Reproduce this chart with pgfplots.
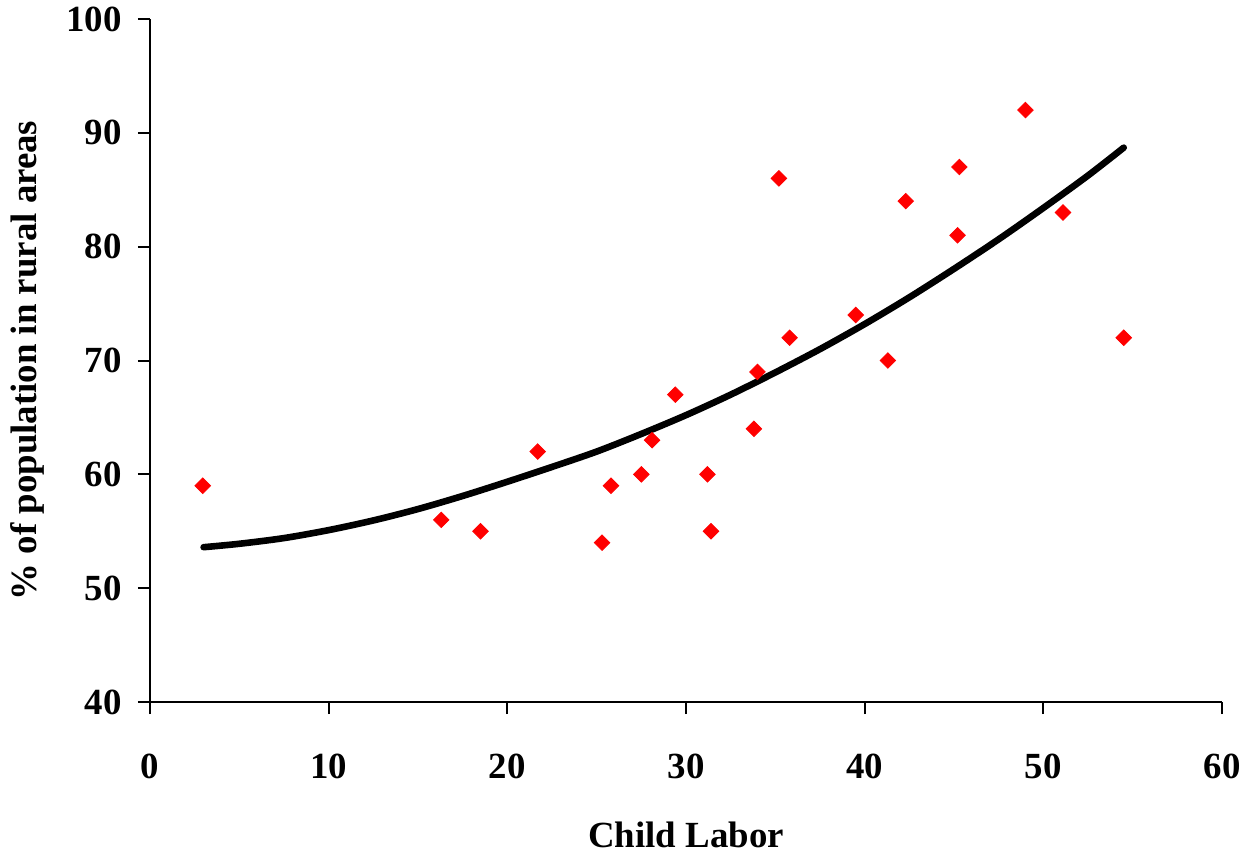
\documentclass[border=0pt]{standalone}
\usepackage{pgfplots}
\pgfplotsset{compat=1.18}
\usepackage{fontspec}
\setmainfont{Liberation Serif}

\begin{document}
\begin{tikzpicture}
\begin{axis}[
    at={(0,0)}, anchor=south west,
    scale only axis,
    width=536bp, height=341.5bp,
    xmin=0, xmax=60, ymin=40, ymax=100,
    xtick={0,10,...,60}, ytick={40,50,...,100},
    axis x line=bottom, axis y line=left,
    axis line style={-, line width=1bp},
    tick align=outside,
    major tick length=6bp,
    tick style={line width=1bp, black},
    font=\fontsize{18.5}{22}\selectfont\bfseries,
    /pgf/number format/assume math mode=true,
    xticklabel style={anchor=north, inner sep=0pt, yshift=-20bp},
    yticklabel style={anchor=east, inner sep=0pt, xshift=-8bp},
    xlabel={Child Labor},
    ylabel={\% of population in rural areas},
    xlabel style={at={([yshift=-72.5bp]axis description cs:0.5,0)}, anchor=base, inner sep=0pt},
    ylabel style={at={([xshift=-56.5bp]axis description cs:0,0.5)}, anchor=base, rotate=0, inner sep=0pt},
]
% observed points
\addplot[only marks, mark=square*, mark size=2.75bp,
    mark options={rotate=45, fill=red, draw=red}] coordinates {
    (2.95,59.0) (16.3,56.0) (18.5,55.0) (21.7,62.0) (25.3,54.0)
    (25.8,59.0) (27.5,60.0) (28.1,63.0) (29.4,67.0) (31.2,60.0)
    (31.4,55.0) (33.8,64.0) (34.0,69.0) (35.2,86.0) (35.8,72.0)
    (39.5,74.0) (41.3,70.0) (42.3,84.0) (45.2,81.0) (45.3,87.0)
    (49.0,92.0) (51.1,83.0) (54.5,72.0)
};
% trend line
\addplot[black, line width=3.3bp, line cap=round, smooth, no marks] coordinates {
    (3,53.6) (5,53.9) (7.5,54.4) (10,55.1) (12.5,55.95) (15,56.95)
    (17.5,58.1) (20,59.35) (22.5,60.65) (25,62.0) (27.5,63.55)
    (30,65.2) (32.5,67.0) (35,68.95) (37.5,71.0) (40,73.2)
    (42.5,75.55) (45,78.05) (47.5,80.65) (50,83.4) (52.5,86.25) (54.5,88.7)
};
\end{axis}
\pgfresetboundingbox
\path[use as bounding box] (-75bp,-79.5bp) rectangle (555bp,351bp);
\end{tikzpicture}
\end{document}
